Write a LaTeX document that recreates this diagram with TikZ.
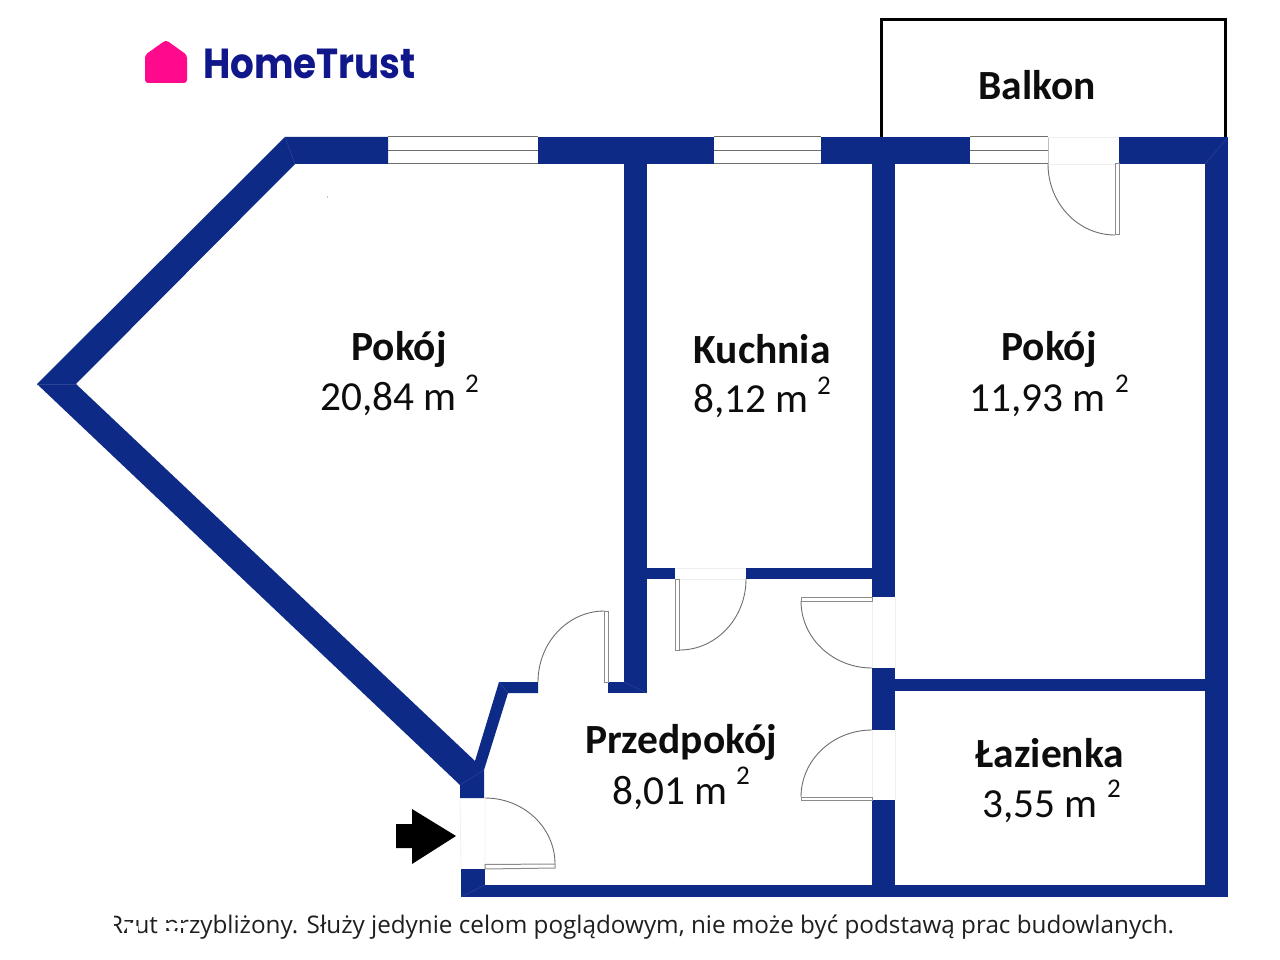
\documentclass[tikz,border=0pt]{standalone}
\usepackage{fontspec}
\setmainfont{Carlito}
\newfontfamily\logofont{Poppins}
\newfontfamily\notefont{Open Sans}
\definecolor{wallblue}{HTML}{0E2A87}
\definecolor{mitre}{HTML}{2A4396}
\definecolor{leafgrey}{HTML}{6E6E6E}
\definecolor{faint}{HTML}{EFEFEF}
\definecolor{logoblue}{HTML}{10178A}
\definecolor{logopink}{HTML}{FF0A8C}
\tikzset{
  wall/.style={fill=wallblue,draw=none},
  mitreline/.style={draw=mitre,line width=0.5pt},
  paneline/.style={draw=leafgrey,line width=1pt},
  gapline/.style={draw=faint,line width=0.7pt},
  leaf/.style={fill=white,draw=leafgrey!80,line width=1pt},
  swing/.style={draw=leafgrey,line width=0.9pt},
  roomname/.style={anchor=base,font=\fontsize{41.5}{41.5}\selectfont\bfseries,inner sep=0pt,text=black!95},
  roomarea/.style={anchor=base west,font=\fontsize{41.3}{41.3}\selectfont,inner sep=0pt,text=black!95},
  sq/.style={anchor=base,font=\fontsize{27}{27}\selectfont,inner sep=0pt,text=black!95}
}
\begin{document}
\begin{tikzpicture}[x=1pt,y=-1pt]
\useasboundingbox (0,0) rectangle (1280,960);
\fill[white] (0,0) rectangle (1280,960);
% logo
\fill[logopink,rounded corners=3pt] (145,83) -- (145,55) -- (166,40) -- (187,55) -- (187,83) -- cycle;
\node[anchor=base west,inner sep=0pt,text=logoblue] (logo) at (203,79) {\scalebox{0.888}[1]{\fontsize{42}{42}\selectfont\logofont\bfseries HomeTrust}};
% balcony
\draw[black,line width=3pt] (881,137) -- (881,20) -- (1225,20) -- (1225,137);
% walls
\fill[wall] (388,137) -- (285,137) -- (37,384) -- (460,785) -- (460,798) -- (484,798) -- (484,770) -- (508,693) -- (538,693) -- (538,682) -- (499,682) -- (475,761) -- (76,384) -- (295,164) -- (388,164) -- cycle;
\fill[wall] (538,137) rectangle (714,164);
\fill[wall] (821,137) rectangle (970,164);
\fill[wall] (1119,137) rectangle (1228,164);
\fill[wall] (624,164) rectangle (647,693);
\fill[wall] (608,682) rectangle (647,693);
\fill[wall] (647,568) rectangle (675,579);
\fill[wall] (746,568) rectangle (872,579);
\fill[wall] (872,150) rectangle (895,597);
\fill[wall] (872,668) rectangle (895,730);
\fill[wall] (872,800) rectangle (895,897);
\fill[wall] (895,679) rectangle (1205,691);
\fill[wall] (1205,137) rectangle (1228,897);
\fill[wall] (461,885) rectangle (1228,897);
\fill[wall] (461,869) rectangle (485,897);
% mitres
\draw[mitreline] (285,137) -- (295,164);
\draw[mitreline] (37,384) -- (76,384);
\draw[mitreline] (1228,137) -- (1205,164);
\draw[mitreline] (460,785) -- (484,770);
\draw[mitreline] (499,682) -- (508,693);
\draw[mitreline] (624,682) -- (647,693);
\draw[mitreline] (461,897) -- (485,885);
% windows
\draw[paneline] (388,137) -- (538,137) (388,150.5) -- (538,150.5) (388,164) -- (538,164);
\draw[paneline] (714,137) -- (821,137) (714,150.5) -- (821,150.5) (714,164) -- (821,164);
\draw[paneline] (970,137) -- (1048,137) (970,150.5) -- (1048,150.5) (970,164) -- (1048,164);
\draw[gapline,draw=leafgrey!45] (1048,137) -- (1048,164);
% door openings
\draw[gapline] (1048,137) -- (1119,137) (1048,164) -- (1115,164);
\draw[gapline] (675,568) -- (746,568) (679,579) -- (746,579);
\draw[gapline] (872,597) -- (872,668) (895,597) -- (895,668);
\draw[gapline] (872,730) -- (872,800) (895,730) -- (895,800);
\draw[gapline] (460,798) -- (461,869) (485,798) -- (485,869);
% doors: balcony
\draw[leaf] (1115,164) rectangle (1119,235);
\draw[swing] (1048,164) arc[start angle=180,end angle=270,x radius=67,y radius=-71];
% door: left room
\draw[leaf] (604.5,611) rectangle (608.5,682);
\draw[swing] (538,682) arc[start angle=180,end angle=90,x radius=66.5,y radius=-71];
% door: kitchen
\draw[leaf] (675.5,579) rectangle (679.5,650);
\draw[swing] (746,579) arc[start angle=0,end angle=-90,x radius=66.5,y radius=-71];
% door: right room
\draw[leaf] (801,597) rectangle (872,601);
\draw[swing] (801,601) arc[start angle=180,end angle=270,x radius=71,y radius=-67];
% door: bathroom
\draw[leaf] (801,797) rectangle (872,800.5);
\draw[swing] (801,797) arc[start angle=180,end angle=90,x radius=71,y radius=-67];
% door: entrance
\draw[leaf] (485,864.5) -- (555,864) -- (555,868) -- (485,869) -- cycle;
\draw[swing] (485,798) arc[start angle=90,end angle=0,x radius=70,y radius=-66];
% entry arrow
\fill[black] (396,824) -- (412,824) -- (412,809) -- (456,836) -- (412,864) -- (412,848) -- (396,848) -- cycle;
% labels
\node[roomname] (n1) at (1037,100) {Balkon};
\node[roomname] (n2) at (399,360) {Pokój};
\node[roomarea] (a2) at (320,410) {20,84 m};
\node[sq] (s2) at (472,392) {2};
\node[roomname] (n3) at (762,363) {Kuchnia};
\node[roomarea] (a3) at (693,412) {8,12 m};
\node[sq] (s3) at (824,394) {2};
\node[roomname] (n4) at (1049,360) {Pokój};
\node[roomarea] (a4) at (969,411) {11,93 m};
\node[sq] (s4) at (1122,392) {2};
\node[roomname] (n5) at (681,753) {Przedpokój};
\node[roomarea] (a5) at (612,804) {8,01 m};
\node[sq] (s5) at (743,784) {2};
\node[roomname] (n6) at (1050,767) {Łazienka};
\node[roomarea] (a6) at (982,817) {3,55 m};
\node[sq] (s6) at (1114,797) {2};
% footer
\node[anchor=base west,inner sep=0pt,text=black!88,font=\fontsize{24.25}{24.25}\selectfont\notefont] (note) at (108,933) {Rzut przybliżony. Służy jedynie celom poglądowym, nie może być podstawą prac budowlanych.};
% white retouching over the start of the footer, as in the reference
\fill[white] (108,914) rectangle (113.5,936);
\fill[white] (122,923) rectangle (135,927);
\fill[white] (127,926) rectangle (138,936);
\fill[white] (164,923) rectangle (184,928);
\fill[white] (164,931) rectangle (176,942);
\fill[black!70] (327.5,197) circle (0.5);
\end{tikzpicture}
\end{document}
